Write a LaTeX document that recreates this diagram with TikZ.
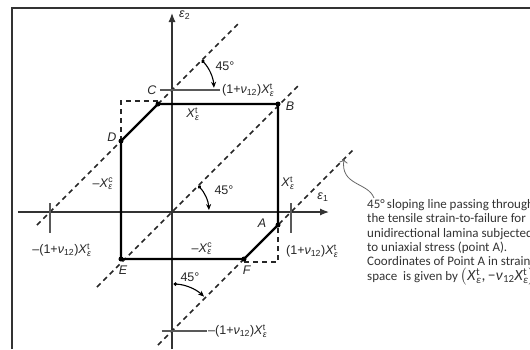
\documentclass[tikz,border=0pt]{standalone}
\usepackage{fontspec}
\usepackage{amsmath}
\setmainfont{Liberation Sans}
\newfontfamily\notefont{Carlito}
\usetikzlibrary{arrows.meta}

% strain allowables as printed on the figure
\newcommand{\Xe}[1]{\textit{X}$^{\text{#1}}_{\text{\textit{ε}}}$}
\newcommand{\onenu}{(1+\textit{ν}\textsubscript{12})}

\begin{document}
\begin{tikzpicture}[x=1pt, y=1pt,
    font=\fontsize{12.5}{14}\selectfont,
    axis/.style={draw=black!80, line width=1.2pt, -{Latex[length=9pt,width=7pt]}},
    edge/.style={line width=2.2pt, line join=round},
    slope45/.style={line width=1.6pt, dash pattern=on 5pt off 4pt, black!85},
    cornerbox/.style={line width=1.4pt, dash pattern=on 5pt off 4pt, black!85},
    tickmark/.style={draw=black!65, line width=1.1pt},
    vertex/.style={circle, fill=black, inner sep=0pt, minimum size=5pt},
    lbl/.style={text=black!85, inner sep=1pt},
    angarc/.style={line width=1.1pt, {Circle[length=3.5pt]}-{Stealth[length=6pt,width=5pt]}},
    notearrow/.style={black!60, line width=0.8pt, -{To[length=4pt]}}]

    \useasboundingbox (-172,-137) rectangle (358,212);

    % Frame of the figure
    \draw[black!80, line width=2pt] (-160,-137) -- (-160,204) -- (358,204);

    % Axes
    \coordinate (e1from) at (-154,0);
    \coordinate (e1to) at (157,0);
    \coordinate (e2from) at (0,-137);
    \coordinate (e2to) at (0,199);
    \draw[axis] (e1from) -- (e1to);
    \draw[axis] (e2from) -- (e2to);
    \node[lbl, anchor=west] (e2lbl) at (6,197) {\textit{ε}\textsubscript{2}};
    \node[lbl] (e1lbl) at (151,15) {\textit{ε}\textsubscript{1}};

    % 45 degree lines: y = x + 122, y = x, y = x - 119
    \coordinate (la) at (-135,-13);
    \coordinate (lb) at (66,188);
    \coordinate (ma) at (-75,-75);
    \coordinate (mb) at (128,128);
    \coordinate (ra) at (-14,-133);
    \coordinate (rb) at (182,63);
    \draw[slope45] (la) -- (lb);
    \draw[slope45] (ma) -- (mb);
    \draw[slope45] (ra) -- (rb);

    % Ticks where the lines cut the axes
    \coordinate (ttopa) at (-12,122);
    \coordinate (ttopb) at (48,122);
    \coordinate (tbota) at (-10,-119);
    \coordinate (tbotb) at (35,-119);
    \coordinate (tlefta) at (-122,9);
    \coordinate (tleftb) at (-122,-21);
    \coordinate (trighta) at (119,9);
    \coordinate (trightb) at (119,-21);
    \draw[tickmark] (ttopa) -- (ttopb);
    \draw[tickmark] (tbota) -- (tbotb);
    \draw[tickmark] (tlefta) -- (tleftb);
    \draw[tickmark] (trighta) -- (trightb);

    % Failure envelope
    \coordinate (A) at (106,-13);
    \coordinate (B) at (106,108);
    \coordinate (C) at (-14,108);
    \coordinate (D) at (-51,71);
    \coordinate (E) at (-51,-47);
    \coordinate (F) at (72,-47);
    \draw[cornerbox] (D) |- ([yshift=3pt]C);
    \draw[cornerbox] ([yshift=-3pt]F) -| (A);
    \draw[edge] (A) -- (B) -- (C) -- (D) -- (E) -- (F) -- cycle;
    \foreach \p in {A,B,C,D,E,F}
        \node[vertex] (dot\p) at (\p) {};

    % Point letters
    \node[lbl] (Alabel) at (90,-11) {\textit{A}};
    \node[lbl] (Blabel) at (118,106) {\textit{B}};
    \node[lbl] (Clabel) at (-20,122) {\textit{C}};
    \node[lbl] (Dlabel) at (-60,75) {\textit{D}};
    \node[lbl] (Elabel) at (-49,-58) {\textit{E}};
    \node[lbl] (Flabel) at (75,-58) {\textit{F}};

    % Strain labels
    \node[lbl] (xtop) at (21,98) {\Xe{t}};
    \node[lbl] (xright) at (116,29) {\Xe{t}};
    \node[lbl] (xcleft) at (-69,28) {–\Xe{c}};
    \node[lbl] (xcbot) at (30,-37) {–\Xe{c}};
    \node[lbl, anchor=west] (nutop) at (49,122) {\onenu\Xe{t}};
    \node[lbl, anchor=west] (nuright) at (113,-39) {\onenu\Xe{t}};
    \node[lbl] (nuleft) at (-110,-38) {–\onenu\Xe{t}};
    \node[lbl, anchor=west] (nubot) at (35,-119) {–\onenu\Xe{t}};

    % 45 degree arcs
    \coordinate (ctop) at (0,122);
    \coordinate (cmid) at (0,0);
    \coordinate (cbot) at (0,-119);
    \draw[angarc] ([shift={(45:42)}]ctop) arc[start angle=45, end angle=3, radius=42];
    \draw[angarc] ([shift={(45:37)}]cmid) arc[start angle=45, end angle=3, radius=37];
    \draw[angarc] ([shift={(88:47)}]cbot) arc[start angle=88, end angle=47, radius=47];
    \node[lbl] (degtop) at (53,146) {45°};
    \node[lbl] (degmid) at (52,22) {45°};
    \node[lbl] (degbot) at (18,-65) {45°};

    % Note on the line through A
    \coordinate (ntail) at (202,14);
    \coordinate (ntip) at (172,53);
    \draw[notearrow] (ntail) .. controls (196,30) and (168,26) .. (ntip);
    \node[anchor=north west, align=left, inner sep=0pt, text=black!80,
          font=\notefont\fontsize{13}{14.4}\selectfont] (note) at (195,13)
        {45°\,sloping line passing through\\
         the tensile strain-to-failure for\\
         unidirectional lamina subjected\\
         to uniaxial stress (point A).\\
         Coordinates of Point A in strain\\
         space~ is given by {\fontsize{15.5}{14.4}\selectfont $\big($\textit{X}$^{\text{t}}_{\text{\textit{ε}}}$,\,−\textit{ν}\textsubscript{12}\textit{X}$^{\text{t}}_{\text{\textit{ε}}}$$\big)$}};
\end{tikzpicture}
\end{document}
